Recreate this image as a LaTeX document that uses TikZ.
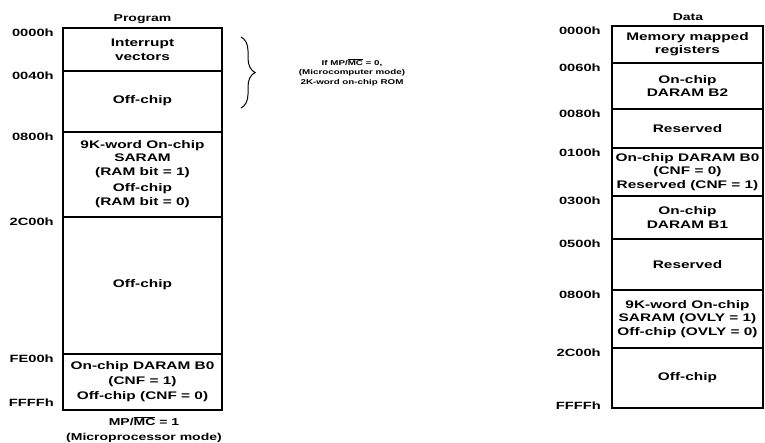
\documentclass[tikz,border=0pt]{standalone}
\usepackage{fontspec}
\setmainfont{Liberation Sans}
\usetikzlibrary{decorations.pathreplacing}

\begin{document}
\begin{tikzpicture}[
  x=0.7143pt, y=-1pt, xscale=1.4,
  every node/.append style={transform shape},
  wall/.style={line width=1.6pt},
  region/.style={font=\bfseries\fontsize{11}{13.5}\selectfont, align=center, inner sep=0pt},
  addr/.style={font=\bfseries\fontsize{10.5}{12}\selectfont, anchor=east, inner sep=0pt},
  hdr/.style={font=\bfseries\fontsize{10}{12}\selectfont, inner sep=0pt},
  note/.style={font=\bfseries\fontsize{7}{9.5}\selectfont, align=center, inner sep=0pt},
  mode/.style={font=\bfseries\fontsize{10}{15}\selectfont, align=center, inner sep=0pt}
]
  \useasboundingbox (0,0) rectangle (765,443);

  % program space
  \node[hdr] (prog) at (142.5,19) {Program};
  \draw[wall] (63,28) rectangle (222,410);
  \foreach \y in {71,132,217,354} \draw[wall] (63,\y) -- (222,\y);
  \node[region] (p0) at (142.5,50) {Interrupt\\vectors};
  \node[region] (p1) at (142.5,101) {Off-chip};
  \node[region] (p2) at (142.5,174) {9K-word On-chip\\SARAM\\(RAM bit = 1)\\[3pt]Off-chip\\(RAM bit = 0)};
  \node[region] (p3) at (142.5,285) {Off-chip};
  \node[region, font=\bfseries\fontsize{11}{15}\selectfont] (p4) at (142.5,382) {On-chip DARAM B0\\(CNF = 1)\\Off-chip (CNF = 0)};
  \foreach \y/\a in {28/0000h, 71/0040h, 132/0800h, 217/2C00h, 354/FE00h}
    \node[addr] (pa\a) at (54,\y+5) {\a};
  \node[addr] (paFFFFh) at (54,403) {FFFFh};
  \node[mode] (mpmode) at (144,429.5) {MP/$\overline{\mbox{MC}}$ = 1\\(Microprocessor mode)};

  % on-chip ROM option
  \coordinate (bt) at (241,37);
  \coordinate (bb) at (241,108);
  \draw[line width=1pt, decorate, decoration={brace, amplitude=14pt}] (bt) -- (bb);
  \node[note] (mcmode) at (352,72) {If MP/$\overline{\mbox{MC}}$ = 0,\\(Microcomputer mode)\\2K-word on-chip ROM};

  % data space
  \node[hdr] (data) at (688,17) {Data};
  \draw[wall] (612,26) rectangle (763,408);
  \foreach \y in {63,109,148,196,239,290,348} \draw[wall] (612,\y) -- (763,\y);
  \node[region] (d0) at (687.5,44) {Memory mapped\\registers};
  \node[region] (d1) at (687.5,86) {On-chip\\DARAM B2};
  \node[region] (d2) at (687.5,128.5) {Reserved};
  \node[region] (d3) at (687.5,172) {On-chip DARAM B0\\(CNF = 0)\\Reserved (CNF = 1)};
  \node[region] (d4) at (687.5,217.5) {On-chip\\DARAM B1};
  \node[region] (d5) at (687.5,264.5) {Reserved};
  \node[region] (d6) at (687.5,319) {9K-word On-chip\\SARAM (OVLY = 1)\\Off-chip (OVLY = 0)};
  \node[region] (d7) at (687.5,378) {Off-chip};
  \foreach \y/\a in {26/0000h, 63/0060h, 109/0080h, 148/0100h, 196/0300h, 239/0500h, 290/0800h, 348/2C00h}
    \node[addr] (da\a) at (601,\y+5) {\a};
  \node[addr] (daFFFFh) at (601,406) {FFFFh};
\end{tikzpicture}
\end{document}
